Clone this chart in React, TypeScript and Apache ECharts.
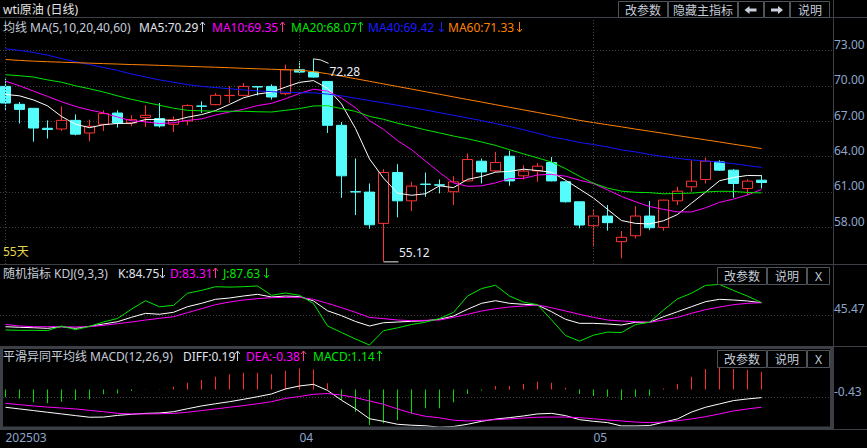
import React, { useEffect, useRef } from "react";
import * as echarts from "echarts";

const dates = [
  "2025-03-03", "2025-03-04", "2025-03-05", "2025-03-06", "2025-03-07", "2025-03-10", "2025-03-11",
  "2025-03-12", "2025-03-13", "2025-03-14", "2025-03-17", "2025-03-18", "2025-03-19", "2025-03-20",
  "2025-03-21", "2025-03-24", "2025-03-25", "2025-03-26", "2025-03-27", "2025-03-28", "2025-03-31",
  "2025-04-01", "2025-04-02", "2025-04-03", "2025-04-04", "2025-04-07", "2025-04-08", "2025-04-09",
  "2025-04-10", "2025-04-11", "2025-04-14", "2025-04-15", "2025-04-16", "2025-04-17", "2025-04-21",
  "2025-04-22", "2025-04-23", "2025-04-24", "2025-04-25", "2025-04-28", "2025-04-29", "2025-04-30",
  "2025-05-01", "2025-05-02", "2025-05-05", "2025-05-06", "2025-05-07", "2025-05-08", "2025-05-09",
  "2025-05-12", "2025-05-13", "2025-05-14", "2025-05-15", "2025-05-16", "2025-05-19",
];

const opens = [
  69.95, 68.43, 68.09, 66.4, 66.34, 67.07, 66.0, 66.74, 67.69, 66.85, 67.3, 67.22, 66.74, 67.02,
  68.29, 68.4, 69.17, 69.19, 69.93, 69.95, 69.33, 71.36, 71.16, 70.37, 66.65, 61.03, 60.99, 58.34,
  62.65, 60.25, 61.67, 61.61, 61.02, 61.94, 63.61, 62.79, 64.03, 62.37, 62.79, 63.5, 61.86, 60.17,
  58.14, 58.96, 56.79, 57.29, 58.96, 58.0, 60.25, 61.44, 62.06, 63.55, 62.85, 61.3, 62.0,
];
const closes = [
  68.54, 68.0, 66.42, 66.3, 67.07, 65.9, 66.57, 67.64, 66.85, 67.13, 67.5, 66.6, 67.13, 68.32,
  68.26, 69.19, 69.19, 69.95, 69.9, 69.05, 71.36, 71.16, 70.74, 66.65, 62.37, 61.0, 58.22, 62.65,
  60.25, 61.5, 61.64, 61.58, 61.86, 63.75, 62.7, 63.5, 61.94, 62.77, 63.19, 61.94, 60.17, 58.2,
  58.96, 58.4, 57.16, 58.96, 57.97, 60.31, 61.07, 61.92, 63.61, 62.85, 61.72, 61.92, 61.8,
];
const lows = [
  67.92, 66.8, 65.26, 65.53, 66.17, 65.8, 65.3, 66.17, 66.46, 66.57, 66.51, 66.46, 66.09, 66.65,
  67.69, 68.35, 68.54, 69.1, 69.19, 68.83, 69.2, 71.07, 70.69, 66.0, 60.5, 59.04, 57.89, 55.12,
  58.85, 59.38, 60.59, 60.88, 59.89, 61.9, 61.72, 62.7, 61.52, 62.06, 61.86, 61.9, 60.1, 57.92,
  56.37, 57.72, 55.38, 57.07, 57.77, 57.72, 59.89, 61.02, 61.72, 62.79, 60.51, 60.74, 61.3,
];
const highs = [
  70.6, 68.62, 68.1, 67.07, 68.26, 67.58, 67.13, 67.92, 67.92, 67.5, 68.34, 68.54, 67.41, 68.43,
  68.68, 69.38, 69.95, 70.23, 69.95, 70.12, 71.8, 72.09, 72.28, 70.4, 66.93, 63.84, 61.72, 62.93,
  63.36, 61.86, 62.65, 62.06, 62.34, 64.26, 63.84, 64.4, 64.5, 63.27, 63.47, 63.97, 61.9, 60.2,
  59.47, 59.89, 57.69, 59.8, 60.23, 60.35, 61.44, 63.69, 63.92, 63.69, 62.93, 62.09, 62.43,
];

const ma5 = [
  69.27, 69.15, 68.8, 68.3, 67.4, 66.74, 66.45, 66.7, 66.81, 66.82, 67.14, 67.14, 67.04, 67.34,
  67.56, 67.9, 68.42, 68.98, 69.3, 69.46, 69.89, 70.29, 70.44, 69.79, 68.46, 66.38, 63.8, 62.18,
  60.9, 60.72, 60.85, 61.52, 61.37, 62.07, 62.31, 62.68, 62.75, 62.93, 62.82, 62.67, 62.0, 61.25,
  60.49, 59.53, 58.58, 58.34, 58.29, 58.56, 59.09, 60.05, 60.98, 61.95, 62.23, 62.4, 62.38,
];
const ma10 = [
  70.4, 70.0, 69.55, 69.1, 68.65, 68.25, 67.95, 67.7, 67.35, 67.04, 66.94, 66.8, 66.87, 67.07,
  67.19, 67.52, 67.78, 68.01, 68.32, 68.51, 68.9, 69.35, 69.71, 69.55, 68.96, 68.14, 67.04, 66.31,
  65.35, 64.59, 63.62, 62.66, 61.77, 61.48, 61.52, 61.77, 62.14, 62.15, 62.44, 62.49, 62.34, 62.0,
  61.71, 61.18, 60.62, 60.17, 59.77, 59.53, 59.31, 59.31, 59.66, 60.12, 60.4, 60.75, 61.21,
];
const ma20 = [
  70.94, 70.85, 70.74, 70.5, 70.3, 70.0, 69.75, 69.47, 69.15, 68.85, 68.6, 68.35, 68.1, 67.92,
  67.88, 67.84, 67.84, 67.84, 67.8, 67.78, 67.92, 68.07, 68.29, 68.31, 68.07, 67.83, 67.41, 67.16,
  66.83, 66.55, 66.26, 66.01, 65.74, 65.51, 65.24, 64.95, 64.59, 64.23, 63.89, 63.54, 62.98, 62.33,
  61.74, 61.33, 61.07, 60.97, 60.95, 60.84, 60.88, 60.9, 61.0, 61.06, 61.05, 60.96, 60.92,
];
const ma40 = [
  73.13, 73.0, 72.82, 72.6, 72.3, 72.05, 71.8, 71.55, 71.3, 71.0, 70.75, 70.5, 70.3, 70.1,
  69.95, 69.85, 69.75, 69.65, 69.57, 69.5, 69.45, 69.42, 69.4, 69.3, 69.15, 68.95, 68.75, 68.55,
  68.35, 68.15, 67.95, 67.72, 67.5, 67.28, 67.05, 66.8, 66.55, 66.28, 65.98, 65.66, 65.45, 65.2,
  65.02, 64.82, 64.57, 64.4, 64.18, 64.0, 63.85, 63.72, 63.63, 63.53, 63.4, 63.24, 63.08,
];
const ma60 = [
  72.23, 72.15, 72.09, 72.04, 72.0, 71.96, 71.92, 71.88, 71.84, 71.8, 71.77, 71.73, 71.69, 71.65,
  71.61, 71.57, 71.53, 71.48, 71.44, 71.4, 71.36, 71.33, 71.2, 71.02, 70.82, 70.6, 70.38, 70.16,
  69.94, 69.72, 69.5, 69.28, 69.06, 68.84, 68.62, 68.4, 68.18, 67.96, 67.74, 67.52, 67.3, 67.07,
  66.88, 66.7, 66.52, 66.33, 66.15, 65.97, 65.78, 65.6, 65.42, 65.24, 65.05, 64.87, 64.68,
];

const kdjK = [
  20.4, 19.1, 18.2, 16.9, 20.4, 16.9, 21.2, 26.2, 31.1, 40.5, 49.0, 47.0, 51.2, 63.2,
  70.4, 79.0, 81.8, 86.1, 89.7, 84.0, 86.0, 84.75, 75.5, 54.5, 44.0, 31.5, 21.9, 28.9,
  30.4, 31.9, 33.2, 36.2, 43.3, 57.6, 70.4, 76.0, 70.4, 68.3, 66.8, 52.5, 36.2, 27.6,
  27.6, 26.2, 24.0, 29.8, 29.8, 41.8, 52.5, 63.2, 73.9, 79.0, 77.5, 75.4, 71.7,
];
const kdjD = [
  25.4, 21.9, 20.4, 20.4, 20.4, 19.7, 20.4, 23.3, 26.9, 30.4, 34.7, 38.3, 41.8, 50.4,
  58.9, 67.5, 73.2, 77.5, 80.4, 82.5, 83.2, 83.31, 78.9, 70.4, 61.1, 51.1, 40.4, 37.6,
  34.7, 33.3, 34.0, 34.7, 40.4, 46.8, 54.0, 58.9, 62.5, 64.7, 66.8, 61.1, 54.0, 46.8,
  40.4, 34.7, 32.6, 31.1, 29.7, 34.7, 40.4, 49.0, 56.8, 62.5, 67.5, 70.4, 71.8,
];
const kdjJ = [
  13.3, 12.6, 12.6, 12.0, 21.9, 14.0, 21.0, 30.5, 38.0, 58.0, 76.0, 63.0, 66.0, 92.0,
  98.0, 106.0, 105.0, 106.0, 107.5, 87.6, 92.5, 87.63, 70.0, 22.0, 8.0, -6.0, -18.8, 11.8,
  18.0, 25.0, 30.0, 38.0, 51.0, 86.0, 102.0, 109.0, 86.1, 73.0, 67.5, 35.0, 1.6, -10.5,
  2.3, 8.8, 8.0, 25.0, 29.8, 56.0, 80.0, 92.0, 108.8, 110.8, 98.0, 85.8, 72.0,
];

const macdDiff = [
  -0.96, -1.05, -1.14, -1.23, -1.32, -1.41, -1.5, -1.49, -1.4, -1.34, -1.29, -1.27, -1.2, -1.04,
  -0.89, -0.77, -0.66, -0.53, -0.39, -0.24, 0.03, 0.19, 0.28, -0.05, -0.58, -1.04, -1.58, -1.72,
  -1.88, -1.93, -1.96, -2.04, -2.0, -1.88, -1.72, -1.6, -1.52, -1.43, -1.32, -1.29, -1.41, -1.63,
  -1.72, -1.79, -1.97, -1.97, -1.95, -1.77, -1.59, -1.22, -0.96, -0.78, -0.6, -0.51, -0.44,
];
const macdDea = [
  -0.75, -0.82, -0.89, -0.95, -1.0, -1.05, -1.13, -1.2, -1.29, -1.32, -1.32, -1.31, -1.29, -1.23,
  -1.14, -1.05, -0.96, -0.87, -0.77, -0.66, -0.48, -0.38, -0.26, -0.22, -0.3, -0.44, -0.62, -0.8,
  -1.05, -1.28, -1.45, -1.53, -1.66, -1.7, -1.67, -1.63, -1.59, -1.54, -1.5, -1.49, -1.49, -1.52,
  -1.58, -1.65, -1.7, -1.76, -1.79, -1.76, -1.69, -1.59, -1.47, -1.32, -1.16, -1.05, -0.96,
];
const macdBar = [
  -0.42, -0.48, -0.69, -0.75, -0.66, -0.57, -0.53, -0.26, -0.21, -0.08, 0.01, 0.02, 0.15, 0.37,
  0.51, 0.69, 0.82, 0.91, 0.91, 0.82, 1.02, 1.14, 1.08, 0.34, -0.57, -1.2, -1.92, -1.83,
  -1.65, -1.3, -1.02, -1.02, -0.69, -0.24, -0.06, 0.19, 0.19, 0.3, 0.42, 0.37, 0.1, -0.24,
  -0.35, -0.39, -0.57, -0.39, -0.34, 0.05, 0.3, 0.69, 1.11, 1.23, 1.11, 1.05, 0.96,
];

const priceTicks = [58, 61, 64, 67, 70, 73];
const kdjTicks = [45.47];
const macdTicks = [-0.43];
const monthIdx = [0, 21, 42];
const monthText = ["202503", "04", "05"];

const PRICE_MIN = 54.897;
const PRICE_MAX = 75.745;
const KDJ_MIN = -20.9;
const KDJ_MAX = 152.4;
const MACD_MIN = -2.0;
const MACD_MAX = 2.297;

const FONT = "'Noto Sans', 'Noto Sans CJK SC', sans-serif";
const AXIS_TXT = "#8ea6cc";
const LABEL_TXT = "#c4ccda";
const SEP = "#3c4046";
const DOT = { color: "#404040", type: [1, 2], width: 1 };

export default function App() {
  const ref = useRef<HTMLDivElement>(null);

  useEffect(() => {
    document.body.style.margin = "0";
    document.body.style.background = "#000";
    const chart = echarts.init(ref.current as HTMLDivElement, null, { renderer: "svg" });

    const candleData = dates.map((_, i) => [opens[i], closes[i], lows[i], highs[i]]);
    const lineS = (data: number[], color: string, x: number) => ({
      type: "line",
      xAxisIndex: x,
      yAxisIndex: x,
      data,
      symbol: "none",
      showSymbol: false,
      silent: true,
      clip: true,
      lineStyle: { color, width: 1 },
      z: 4,
    });
    const bgY = (grid: number, min: number, max: number, ticks: number[]) => ({
      gridIndex: grid,
      type: "value",
      position: "right",
      min,
      max,
      axisLine: { show: false },
      axisTick: { show: false, customValues: ticks },
      axisLabel: {
        show: true,
        customValues: ticks,
        formatter: (v: number) => v.toFixed(2),
        color: AXIS_TXT,
        fontSize: 12,
        fontFamily: FONT,
        verticalAlign: "bottom",
        align: "left",
        margin: 1,
      },
      splitLine: { show: true, lineStyle: DOT },
    });
    const dataGrid = (top: number, height: number) => ({
      left: -1.5, top, width: 770, height, outerBoundsMode: "none", containLabel: false,
    });
    const bgGrid = (top: number, height: number) => ({
      left: 0, top, width: 833, height, outerBoundsMode: "none", containLabel: false,
    });

    const option: any = {
      animation: false,
      backgroundColor: "#000",
      grid: [
        dataGrid(18, 246), dataGrid(265, 81), dataGrid(347, 79.5),
        bgGrid(18, 246), bgGrid(265, 81), bgGrid(347, 79.5),
      ],
      xAxis: [
        { gridIndex: 0, type: "category", data: dates, boundaryGap: true, show: false },
        { gridIndex: 1, type: "category", data: dates, boundaryGap: true, show: false },
        {
          gridIndex: 2, type: "category", data: dates, boundaryGap: true, show: true,
          axisLine: { show: false }, axisTick: { show: false }, splitLine: { show: false },
          axisLabel: {
            show: true,
            interval: (idx: number) => monthIdx.indexOf(idx) >= 0,
            formatter: (_v: string, idx: number) => monthText[monthIdx.indexOf(idx)] || "",
            align: "left",
            color: AXIS_TXT,
            fontSize: 12,
            fontFamily: FONT,
            margin: 5,
          },
        },
        { gridIndex: 3, type: "value", min: 0, max: 1, show: false },
        { gridIndex: 4, type: "value", min: 0, max: 1, show: false },
        { gridIndex: 5, type: "value", min: 0, max: 1, show: false },
      ],
      yAxis: [
        { gridIndex: 0, type: "value", min: PRICE_MIN, max: PRICE_MAX, show: false },
        { gridIndex: 1, type: "value", min: KDJ_MIN, max: KDJ_MAX, show: false },
        { gridIndex: 2, type: "value", min: MACD_MIN, max: MACD_MAX, show: false },
        bgY(3, PRICE_MIN, PRICE_MAX, priceTicks),
        bgY(4, KDJ_MIN, KDJ_MAX, kdjTicks),
        bgY(5, MACD_MIN, MACD_MAX, macdTicks),
      ],
      series: [
        {
          type: "candlestick",
          xAxisIndex: 0,
          yAxisIndex: 0,
          data: candleData,
          barWidth: 10,
          silent: true,
          z: 3,
          itemStyle: {
            color: "#000000",
            color0: "#54fcfc",
            borderColor: "#ff3232",
            borderColor0: "#54fcfc",
            borderWidth: 1,
          },
          markLine: {
            silent: true,
            symbol: ["none", "none"],
            label: { show: false },
            lineStyle: { color: "#444444", type: [1, 2], width: 1 },
            data: monthIdx.map((i) => ({ xAxis: dates[i] })),
          },
        },
        lineS(ma5, "#ffffff", 0),
        lineS(ma10, "#ff00ff", 0),
        lineS(ma20, "#00e600", 0),
        lineS(ma40, "#1414ff", 0),
        lineS(ma60, "#ff8000", 0),
        lineS(kdjK, "#ffffff", 1),
        lineS(kdjD, "#ff00ff", 1),
        lineS(kdjJ, "#00e600", 1),
        {
          type: "bar",
          xAxisIndex: 2,
          yAxisIndex: 2,
          barWidth: 1,
          silent: true,
          z: 3,
          data: macdBar.map((v) => ({
            value: v,
            itemStyle: { color: v >= 0 ? "#ff2a2a" : "#00e000" },
          })),
        },
        lineS(macdDiff, "#ffffff", 2),
        lineS(macdDea, "#ff00ff", 2),
      ],
    };
    chart.setOption(option);

    const hiIdx = highs.indexOf(Math.max(...highs));
    const loIdx = lows.indexOf(Math.min(...lows));
    const hp = chart.convertToPixel({ xAxisIndex: 0, yAxisIndex: 0 }, [hiIdx, highs[hiIdx]]) as number[];
    const lp = chart.convertToPixel({ xAxisIndex: 0, yAxisIndex: 0 }, [loIdx, lows[loIdx]]) as number[];

    const txt = (x: number, y: number, text: string, fill: string, size = 12, align = "left") => ({
      type: "text",
      z: 100,
      x,
      y,
      style: {
        text,
        fill,
        font: `${size}px ${FONT}`,
        fontSize: size,
        fontFamily: FONT,
        align,
        verticalAlign: "middle",
        textAlign: align,
        textVerticalAlign: "middle",
      },
    });
    const hline = (y: number, x1 = 0, x2 = 867, color = SEP) => ({
      type: "line", z: 90, shape: { x1, y1: y, x2, y2: y }, style: { stroke: color, lineWidth: 1 },
    });
    const button = (x1: number, x2: number, y1: number, y2: number, label: string) => [
      {
        type: "rect", z: 100,
        shape: { x: x1 + 0.5, y: y1 + 0.5, width: x2 - x1 - 1, height: y2 - y1 - 1 },
        style: { fill: "#000", stroke: "#4e545c", lineWidth: 1 },
      },
      txt((x1 + x2) / 2, (y1 + y2) / 2 + 0.5, label, LABEL_TXT, 12, "center"),
    ];
    const arrow = (cx: number, cy: number, dir: number) => ({
      type: "polygon", z: 101,
      shape: {
        points: [
          [cx - 6 * dir, cy], [cx - 1 * dir, cy - 4], [cx - 1 * dir, cy - 1.5], [cx + 6 * dir, cy - 1.5],
          [cx + 6 * dir, cy + 1.5], [cx - 1 * dir, cy + 1.5], [cx - 1 * dir, cy + 4],
        ],
      },
      style: { fill: "#c8d0dc" },
    });
    // thin legend arrow (up = true for ↑)
    const tick = (cx: number, cy: number, up: boolean, color: string) => {
      const s = up ? -1 : 1;
      return [
        {
          type: "line", z: 100,
          shape: { x1: cx, y1: cy - 5, x2: cx, y2: cy + 5 },
          style: { stroke: color, lineWidth: 1 },
        },
        {
          type: "polyline", z: 100,
          shape: { points: [[cx - 2.5, cy + 5 * s - 3 * s], [cx, cy + 5 * s], [cx + 2.5, cy + 5 * s - 3 * s]] },
          style: { stroke: color, lineWidth: 1, fill: null },
        },
      ];
    };

    const elements: any[] = [
      txt(3, 9, "wti原油 (日线)", "#e4e4e4"),
      hline(17.5), hline(264.5), hline(346.5), hline(429.5),
      { type: "line", z: 90, shape: { x1: 833.5, y1: 0, x2: 833.5, y2: 429.5 }, style: { stroke: SEP, lineWidth: 1 } },
      ...button(618, 668, 1, 18, "改参数"),
      ...button(668, 738, 1, 18, "隐藏主指标"),
      ...button(738, 764, 1, 18, ""),
      ...button(764, 790, 1, 18, ""),
      ...button(790, 830, 1, 18, "说明"),
      arrow(750.5, 10, 1),
      arrow(777, 10, -1),
      txt(3, 27, "均线 MA(5,10,20,40,60)", LABEL_TXT),
      txt(139, 27, "MA5:70.29", "#e0e4ec"),
      ...tick(202.5, 27, true, "#c8dcf0"),
      txt(212, 27, "MA10:69.35", "#ff00ff"),
      ...tick(282.5, 27, true, "#ff3c8c"),
      txt(291, 27, "MA20:68.07", "#00e600"),
      ...tick(360.5, 27, true, "#00e600"),
      txt(368, 27, "MA40:69.42", "#1c1cff"),
      ...tick(441.5, 27, false, "#1c1cff"),
      txt(448, 27, "MA60:71.33", "#ff8000"),
      ...tick(519.5, 27, false, "#ff8000"),
      txt(3, 251.5, "55天", "#e6d44a"),
      txt(3, 273, "随机指标 KDJ(9,3,3)", LABEL_TXT),
      txt(118, 273, "K:84.75", "#e0e4ec"),
      ...tick(162.5, 273, false, "#c8dcf0"),
      txt(170, 273, "D:83.31", "#ff00ff"),
      ...tick(215.5, 273, true, "#ff3c8c"),
      txt(223, 273, "J:87.63", "#00e600"),
      ...tick(266.5, 273, false, "#00e600"),
      ...button(717, 767, 267, 285, "改参数"),
      ...button(767, 807, 267, 285, "说明"),
      ...button(807, 830, 267, 285, "X"),
      {
        type: "rect", z: 95,
        shape: { x: 1.5, y: 347.5, width: 830, height: 80.5 },
        style: { fill: null, stroke: SEP, lineWidth: 3 },
      },
      txt(3, 356, "平滑异同平均线 MACD(12,26,9)", LABEL_TXT),
      txt(183, 356, "DIFF:0.19", "#e0e4ec"),
      ...tick(237.5, 356, true, "#c8dcf0"),
      txt(246, 356, "DEA:-0.38", "#ff00ff"),
      ...tick(303.5, 356, true, "#ff3c8c"),
      txt(313, 356, "MACD:1.14", "#00e600"),
      ...tick(379.5, 356, true, "#00e600"),
      ...button(717, 767, 350, 368, "改参数"),
      ...button(767, 807, 350, 368, "说明"),
      ...button(807, 830, 350, 368, "X"),
      {
        type: "polyline", z: 100,
        shape: { points: [[hp[0], hp[1]], [hp[0] + 7, hp[1] + 1], [hp[0] + 15, hp[1] + 4.5]] },
        style: { stroke: "#e8e8e8", lineWidth: 1, fill: null },
      },
      txt(hp[0] + 16, hp[1] + 13, highs[hiIdx].toFixed(2), "#e8eef8"),
      hline(lp[1] + 0.5, lp[0], lp[0] + 15, "#e8e8e8"),
      txt(lp[0] + 15.5, lp[1] - 8.5, lows[loIdx].toFixed(2), "#e8eef8"),
    ];
    chart.setOption({ graphic: { elements } });

    return () => {
      chart.dispose();
    };
  }, []);

  return (
    <div
      ref={ref}
      style={{ position: "fixed", left: 0, top: 0, width: 867, height: 448, background: "#000" }}
    />
  );
}
